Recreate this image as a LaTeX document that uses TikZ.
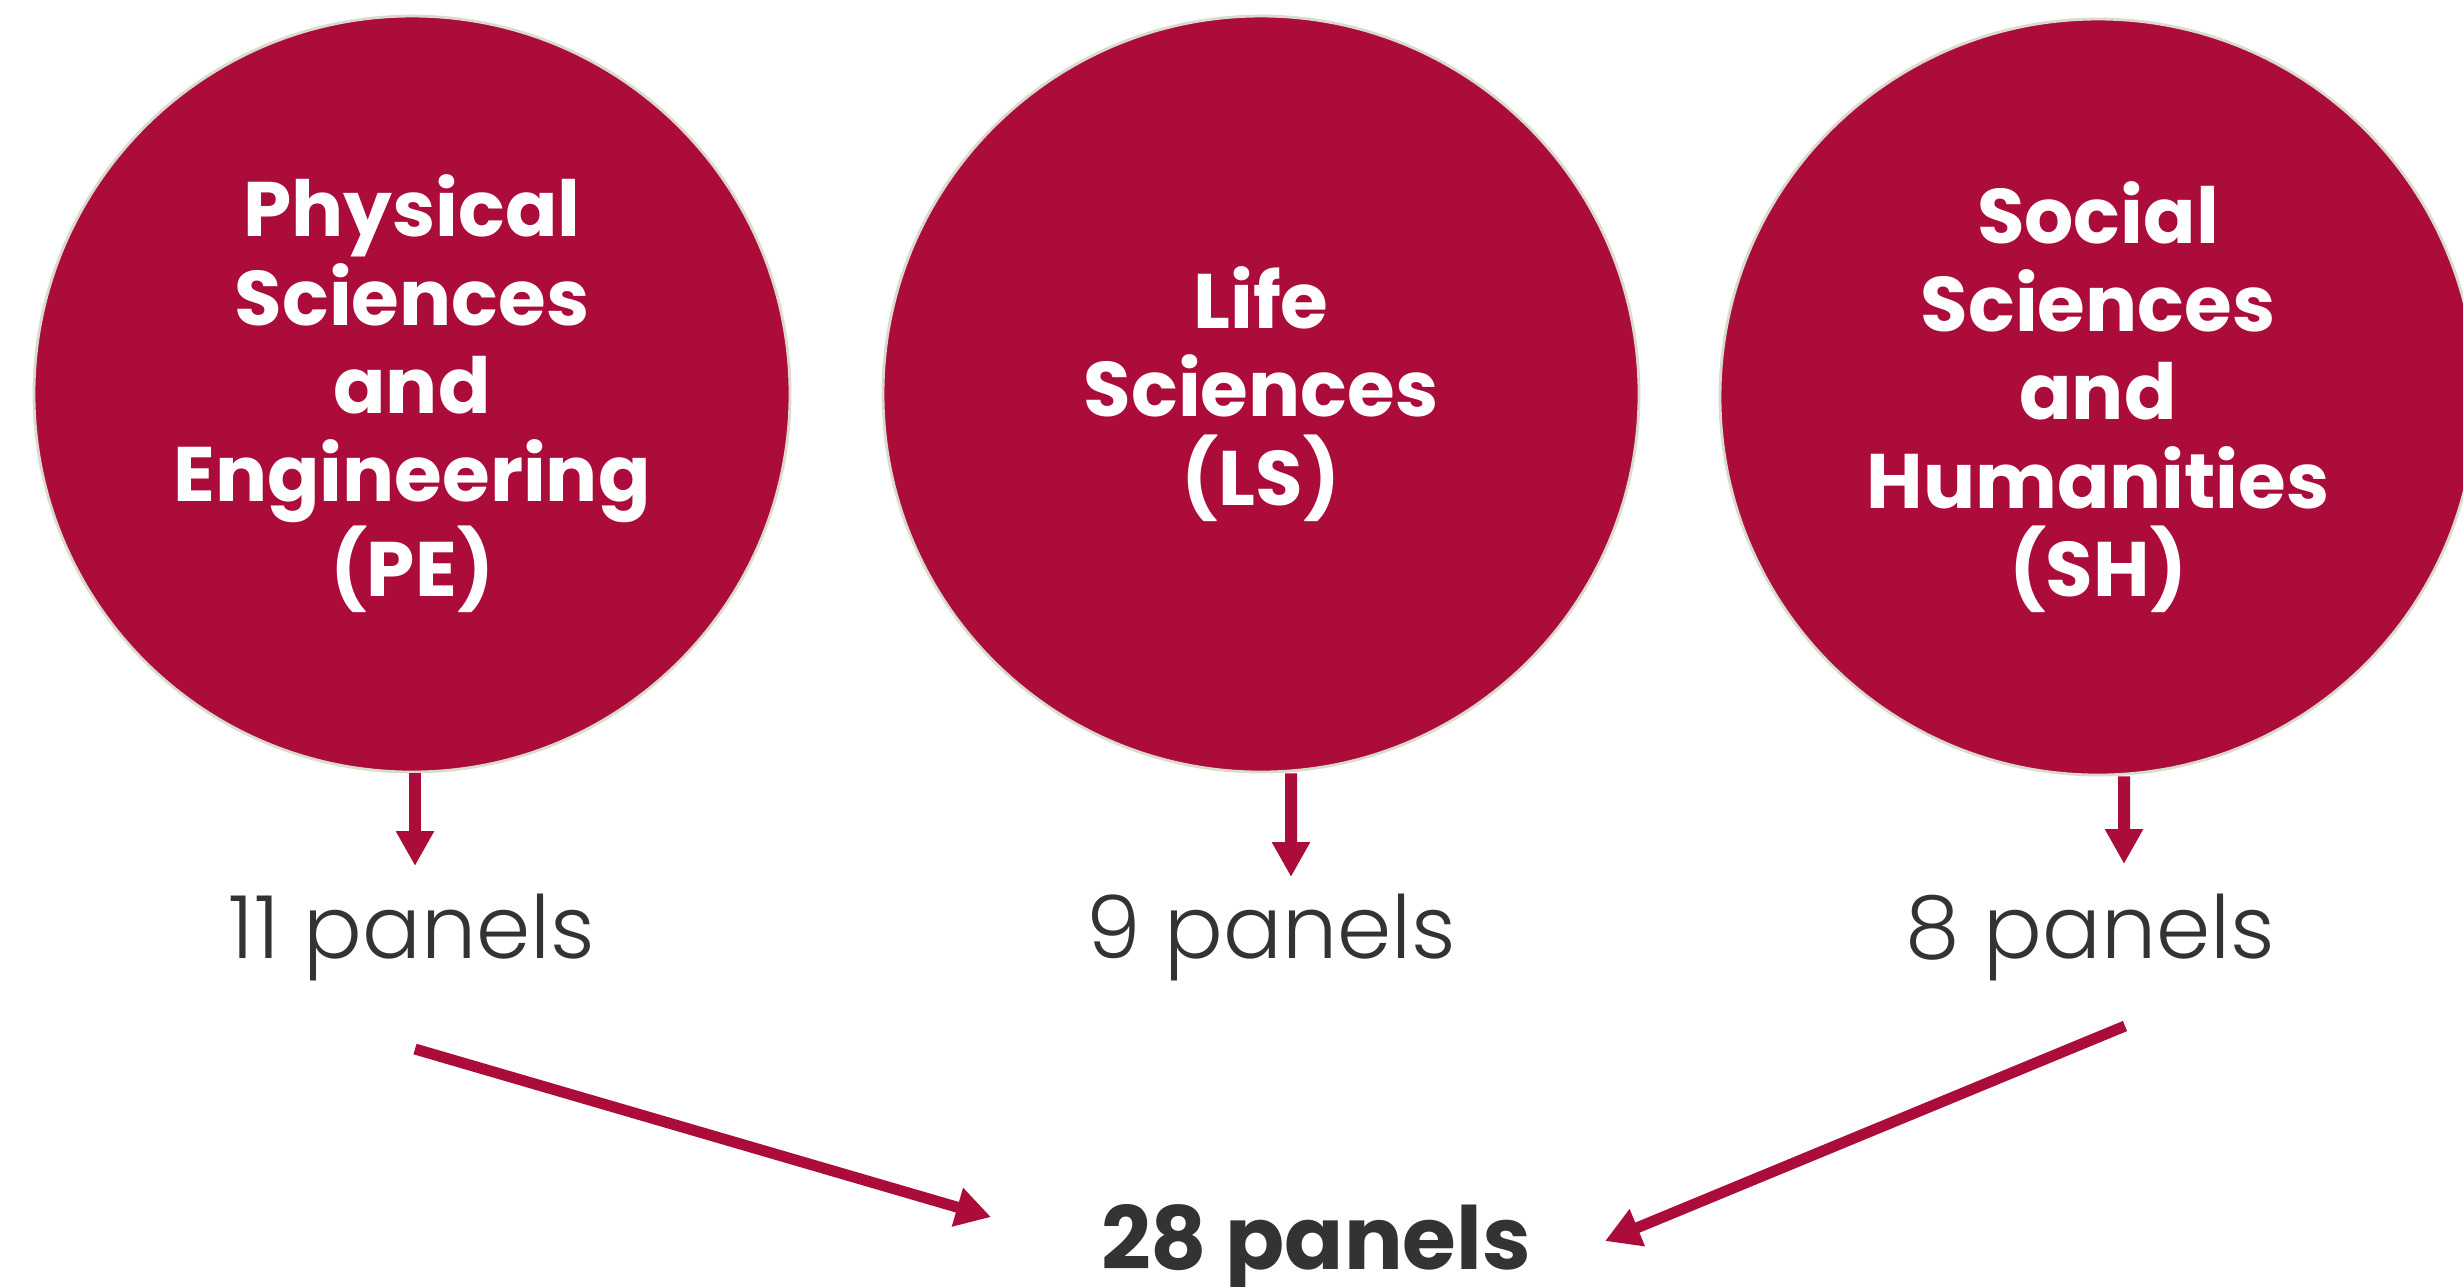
\documentclass[tikz,border=0pt]{standalone}
\usepackage{fontspec}
\setmainfont{Poppins}
\newfontfamily\lightfont{Poppins Light}
\usetikzlibrary{arrows.meta, positioning}
\definecolor{crimson}{RGB}{171,12,58}
\definecolor{ink}{RGB}{51,51,51}
\definecolor{rim}{RGB}{218,218,205}

\begin{document}
\begin{tikzpicture}[semithick]
    \tikzstyle{field}=[shape=circle, fill=crimson, draw=rim, line width=0.8pt, minimum size=7.56cm, inner sep=0pt, text=white, align=center, font=\fontsize{22}{25.1}\selectfont\bfseries]
    \tikzstyle{tally}=[shape=rectangle, draw=none, text=ink, anchor=base, inner sep=0pt, font=\fontsize{24.8}{28}\selectfont\lightfont]
    \tikzstyle{drop}=[-{Triangle[width=3.6mm,length=3.5mm]}, draw=crimson, line width=1.2mm]
    \tikzstyle{merge}=[-{Triangle[width=3.8mm,length=3.5mm]}, draw=crimson, line width=1.1mm]

    \useasboundingbox (0,0) rectangle (24.63,-12.86);


    \node[field]  (pe) at (4.12,-3.94)  {Physical\\Sciences\\and\\Engineering\\(PE)};
    \node[field]  (ls) at (12.61,-3.94) {Life\\Sciences\\(LS)};
    \node[field]  (sh) at (20.98,-3.97) {Social\\Sciences\\and\\Humanities\\(SH)};



    %\node[tally] (head) at (12,-9.58) {panels};
        \node[tally]  (pe11) at (4.12,-9.58)  {11 panels};
        \node[tally]  (ls9)  at (12.71,-9.58) {9 panels};
        \node[tally]  (sh8)  at (20.90,-9.58) {8 panels};

            \node[tally, font=\fontsize{24.8}{28}\selectfont\bfseries]  (total) at (13.16,-12.69) {28 panels};


    \path
    ([xshift=0.3mm]pe.south)  edge[drop]  ([xshift=0.3mm,yshift=9.2mm]pe11.base)
    ([xshift=3mm]ls.south)    edge[drop]  ([xshift=2mm,yshift=8.1mm]ls9.base)
    ([xshift=2.6mm]sh.south)  edge[drop]  ([xshift=3.4mm,yshift=9.4mm]sh8.base)
    ;

    \path
    ([xshift=0.3mm,yshift=-9.1mm]pe11.base)  edge[merge]  ([xshift=-32.5mm,yshift=5.2mm]total.base)
    ([xshift=3.5mm,yshift=-6.8mm]sh8.base)   edge[merge]  ([xshift=28.9mm,yshift=2.8mm]total.base)
    ;


\end{tikzpicture}
\end{document}
